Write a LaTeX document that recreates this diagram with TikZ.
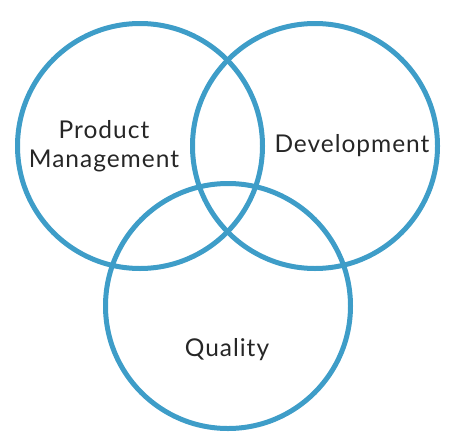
\documentclass[tikz,border=0pt]{standalone}
\usepackage{fontspec}
\setmainfont[LetterSpace=4]{Lato}
\usepackage{tikz}
\usetikzlibrary{positioning}
\definecolor{vennblue}{RGB}{62,157,200}
\tikzset{
	venn/.style={circle, draw=vennblue, line width=5pt, minimum size=245pt, inner sep=0pt},
	area/.style={text centered, align=center, text=black!85, font=\fontsize{24.5}{29}\selectfont},
}

\begin{document}
\begin{tikzpicture}[x=1pt, y=-1pt]

\useasboundingbox (0,0) rectangle (460,442);
	%circles
\node [venn] at (140,146) (pm) {};
\node [venn] at (315,146) (dev) {};
\node [venn] at (228,306) (qa) {};
	%labels
\node [area] at (104,146) (pm text) {Product\\Management};
\node [area] at (352,146) (dev text) {Development};
\node [area] at (227,350) (qa text) {Quality};

\end{tikzpicture}
\end{document}
